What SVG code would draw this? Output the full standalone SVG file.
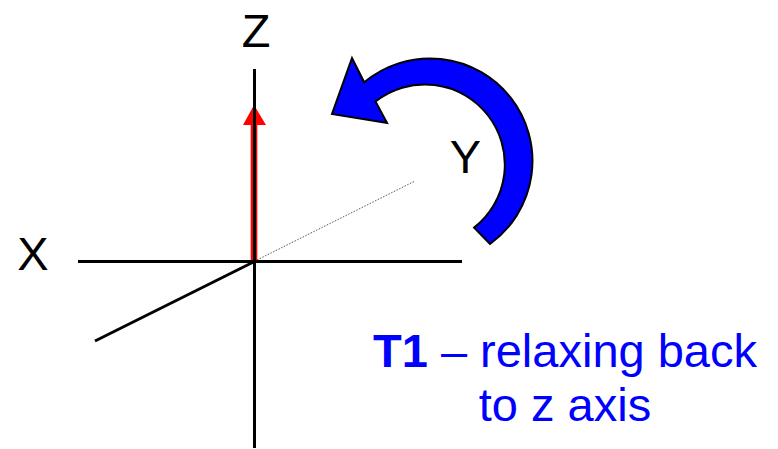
<svg xmlns="http://www.w3.org/2000/svg" width="778" height="449" viewBox="0 0 778 449">
<style>
.axis{stroke:#000;stroke-width:3;fill:none}
.lbl{font-family:"Liberation Sans",Arial,sans-serif;font-size:47px;fill:#000;text-anchor:middle}
.cap{font-family:"Liberation Sans",Arial,sans-serif;font-size:47px;fill:#0000ff;text-anchor:middle}
</style>
<rect width="778" height="449" fill="#fff"/>
<g id="connectors">
<line x1="257" y1="260" x2="415" y2="181" stroke="#555" stroke-width="1" stroke-dasharray="1.5,1.5"/>
<g id="vector">
<polygon points="250.7,261 250.7,125 243,125 254,105 266,125 257.3,125 257.3,261" fill="#ff0000"/>
</g>
<line class="axis" x1="254.5" y1="69" x2="254.5" y2="448"/>
<line class="axis" x1="78" y1="261.5" x2="462" y2="261.5"/>
<line class="axis" x1="95" y1="341" x2="254.5" y2="261.5"/>
<path id="rotation" d="M490,244 A102.5,102.5 0 1 0 364.2,82.3 L352,58 L332,114 L387,123 L375.5,101.5 A80,80 0 1 1 474.1,227.6 Z" fill="#0000ff" stroke="#000" stroke-width="2" stroke-linejoin="miter"/>
</g>
<g id="labelZ"><text class="lbl" x="256" y="47">Z</text></g>
<g id="labelX"><text class="lbl" x="33" y="270">X</text></g>
<g id="labelY"><text class="lbl" x="465.5" y="173">Y</text></g>
<g id="caption">
<text class="cap" x="565" y="367"><tspan font-weight="bold">T1</tspan> – relaxing back</text>
<text class="cap" x="565" y="421">to z axis</text>
</g>
</svg>
